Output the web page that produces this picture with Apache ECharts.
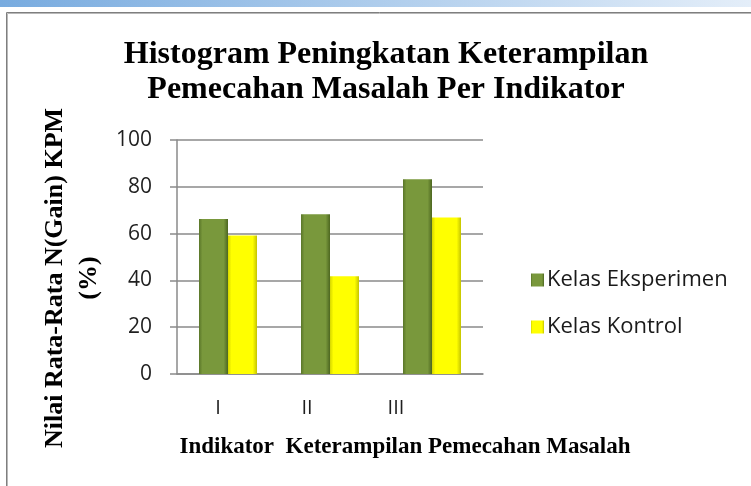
<!DOCTYPE html>
<html>
<head>
<meta charset="utf-8">
<script src="https://cdn.jsdelivr.net/npm/echarts@6/dist/echarts.min.js"></script>
<style>
html,body{margin:0;padding:0;background:#fff;}
#chart{width:751px;height:486px;}
</style>
</head>
<body>
<div id="chart"></div>
<script>
var categories = ['I', 'II', 'III'];
var eksperimen = [66.2, 68.3, 83.2];
var kontrol = [59.2, 41.8, 66.9];
var yTicks = [0, 20, 40, 60, 80, 100];
var seriesNames = ['Kelas Eksperimen', 'Kelas Kontrol'];
var titleText = 'Histogram Peningkatan Keterampilan\nPemecahan Masalah Per Indikator';
var xName = 'Indikator  Keterampilan Pemecahan Masalah';
var yName = 'Nilai Rata-Rata N(Gain) KPM\n(%)';

var serif = '"Liberation Serif","Times New Roman",serif';
var sans = '"Open Sans","Noto Sans",sans-serif';
var richKeys = ['a', 'b', 'c'];

var chart = echarts.init(document.getElementById('chart'));
var greenGrad = new echarts.graphic.LinearGradient(0, 0, 1, 0, [
  {offset: 0, color: '#5a7629'}, {offset: 0.12, color: '#79983c'},
  {offset: 0.85, color: '#79983c'}, {offset: 1, color: '#4c6620'}]);
var yellowGrad = new echarts.graphic.LinearGradient(0, 0, 1, 0, [
  {offset: 0, color: '#d6d600'}, {offset: 0.12, color: '#ffff00'},
  {offset: 0.85, color: '#ffff00'}, {offset: 1, color: '#c4c400'}]);

chart.setOption({
  backgroundColor: '#ffffff',
  animation: false,
  graphic: [
    {type: 'rect', left: 0, top: 0, silent: true, z: -10,
      shape: {x: 0, y: 0, width: 751, height: 7},
      style: {fill: new echarts.graphic.LinearGradient(0, 0, 1, 0, [
        {offset: 0, color: '#78abdf'}, {offset: 1, color: '#e4eef9'}])}},
    {type: 'rect', silent: true, z: -10,
      shape: {x: 6.5, y: 12.5, width: 800, height: 600},
      style: {fill: 'none', stroke: '#7f7f7f', lineWidth: 1}},
    {type: 'rect', silent: true, z: -10,
      shape: {x: 7.5, y: 13.5, width: 800, height: 600},
      style: {fill: 'none', stroke: '#b8b8b8', lineWidth: 1}}
  ],
  title: {
    text: titleText,
    left: 381,
    top: 32,
    textAlign: 'center',
    textStyle: {fontFamily: serif, fontWeight: 'bold', fontSize: 32, lineHeight: 35, color: '#000'}
  },
  legend: {
    orient: 'vertical',
    left: 526,
    top: 263,
    itemWidth: 13,
    itemHeight: 13,
    itemGap: 23,
    icon: 'rect',
    data: seriesNames,
    textStyle: {fontFamily: sans, fontSize: 22, lineHeight: 24, color: '#1a1a1a', padding: [0, 0, 0, -2]}
  },
  grid: {left: 177, top: 140, width: 306, height: 234, containLabel: false},
  xAxis: {
    type: 'category',
    data: categories,
    name: xName,
    nameLocation: 'middle',
    nameGap: 62,
    nameTextStyle: {fontFamily: serif, fontWeight: 'bold', fontSize: 23, color: '#000', padding: [0, 0, 0, 150]},
    axisLine: {show: true, lineStyle: {color: '#8a8a8a', width: 1.5}},
    axisTick: {show: false},
    axisLabel: {
      margin: 24,
      fontFamily: sans, fontSize: 20, color: '#1f1f1f',
      formatter: function (v, i) { return '{' + richKeys[i] + '|' + v + '}'; },
      rich: {
        a: {fontFamily: sans, fontSize: 20, color: '#1f1f1f', padding: [0, 20, 0, 0]},
        b: {fontFamily: sans, fontSize: 20, color: '#1f1f1f', padding: [0, 46, 0, 0]},
        c: {fontFamily: sans, fontSize: 20, color: '#1f1f1f', padding: [0, 72, 0, 0]}
      }
    }
  },
  yAxis: {
    type: 'value',
    min: yTicks[0],
    max: yTicks[yTicks.length - 1],
    interval: yTicks[1] - yTicks[0],
    name: yName,
    nameLocation: 'middle',
    nameRotate: 90,
    nameGap: 71,
    nameTextStyle: {fontFamily: serif, fontWeight: 'bold', fontSize: 26, lineHeight: 34, color: '#000', align: 'center', padding: [0, 42, 0, 0]},
    axisLine: {show: true, lineStyle: {color: '#8a8a8a', width: 1.5}},
    axisTick: {show: true, inside: false, length: 7, lineStyle: {color: '#8a8a8a', width: 1.5}},
    axisLabel: {margin: 25, fontFamily: sans, fontSize: 21, color: '#1f1f1f'},
    splitLine: {show: true, lineStyle: {color: '#8a8a8a', width: 1.5}}
  },
  series: [
    {name: seriesNames[0], type: 'bar', data: eksperimen, barWidth: 29, barGap: '0%',
      itemStyle: {color: greenGrad}},
    {name: seriesNames[1], type: 'bar', data: kontrol, barWidth: 29, barGap: '0%',
      itemStyle: {color: yellowGrad}}
  ]
});
</script>
</body>
</html>
